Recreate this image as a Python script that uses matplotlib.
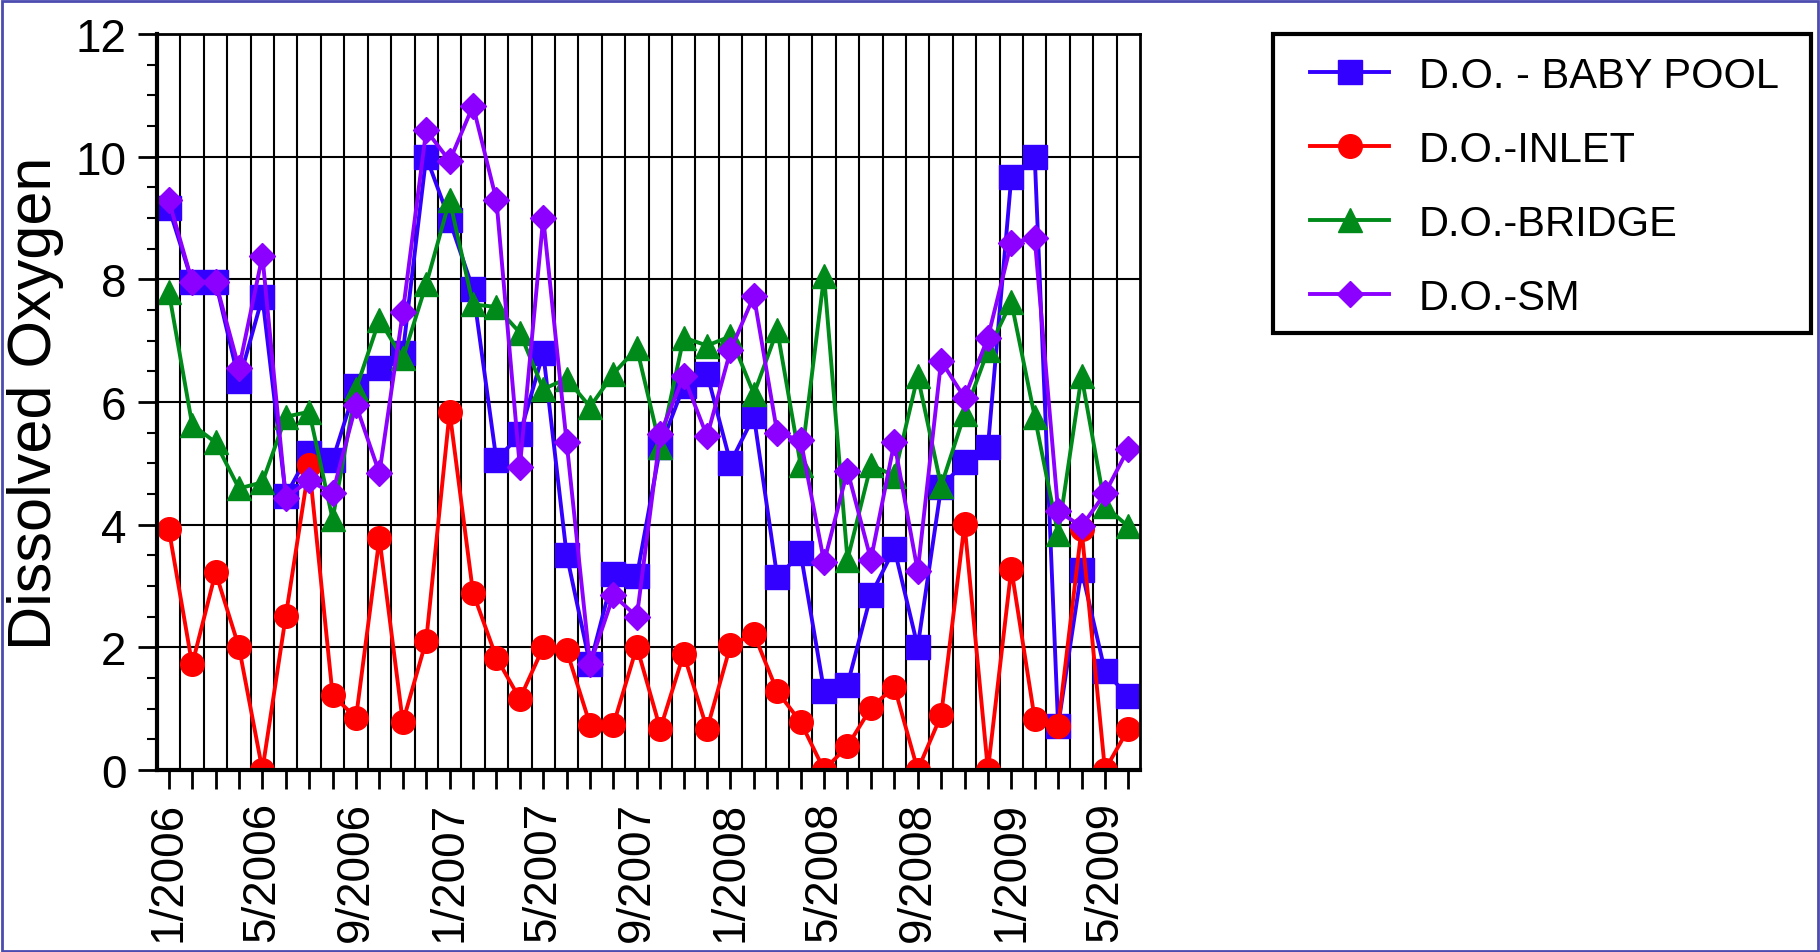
import matplotlib
matplotlib.use('Agg')
import matplotlib.pyplot as plt
from matplotlib.patches import Rectangle

plt.rcParams['font.family'] = ['Liberation Sans', 'DejaVu Sans']

# monthly samples, 1/2006 .. 6/2009
months = ['%d/%d' % (m, y) for y in range(2006, 2010) for m in range(1, 13)][:42]

baby_pool = [9.17, 7.96, 7.96, 6.34, 7.71, 4.47, 5.17, 5.05, 6.26, 6.55,
             6.80, 10.0, 8.96, 7.84, 5.05, 5.47, 6.80, 3.51, 1.72, 3.19,
             3.16, 5.26, 6.26, 6.46, 5.01, 5.77, 3.14, 3.53, 1.29, 1.39,
             2.85, 3.61, 2.01, 4.61, 5.02, 5.27, 9.67, 10.0, 0.72, 3.26,
             1.61, 1.20]
inlet = [3.93, 1.72, 3.22, 2.00, 0.00, 2.51, 4.97, 1.22, 0.85, 3.78,
         0.78, 2.11, 5.84, 2.89, 1.83, 1.16, 2.00, 1.95, 0.74, 0.74,
         2.01, 0.67, 1.89, 0.67, 2.03, 2.22, 1.28, 0.78, 0.00, 0.39,
         1.01, 1.36, 0.00, 0.89, 4.01, 0.00, 3.28, 0.83, 0.72, 3.93,
         0.00, 0.67]
bridge = [7.80, 5.63, 5.34, 4.59, 4.69, 5.76, 5.84, 4.09, 6.21, 7.34,
          6.71, 7.92, 9.29, 7.59, 7.55, 7.13, 6.21, 6.38, 5.92, 6.46,
          6.88, 5.26, 7.05, 6.92, 7.07, 6.13, 7.17, 4.97, 8.05, 3.43,
          4.97, 4.80, 6.42, 4.63, 5.80, 6.84, 7.63, 5.76, 3.84, 6.42,
          4.30, 3.97]
sm = [9.29, 7.96, 7.96, 6.55, 8.38, 4.44, 4.72, 4.51, 5.95, 4.84,
      7.46, 10.43, 9.93, 10.83, 9.29, 4.94, 9.00, 5.34, 1.72, 2.85,
      2.50, 5.48, 6.42, 5.44, 6.84, 7.73, 5.49, 5.38, 3.39, 4.88,
      3.43, 5.34, 3.24, 6.67, 6.07, 7.05, 8.60, 8.67, 4.22, 3.97,
      4.51, 5.24]

series = [
    ('D.O. - BABY POOL', baby_pool, '#3300ff', 's'),
    ('D.O.-INLET', inlet, '#ff0000', 'o'),
    ('D.O.-BRIDGE', bridge, '#008a1a', '^'),
    ('D.O.-SM', sm, '#8c00ff', 'D'),
]

fig = plt.figure(figsize=(18.2, 9.53), dpi=100)
ax = fig.add_axes([0.0863, 0.191, 0.5401, 0.7723])

x = list(range(len(months)))
for name, vals, color, mk in series:
    ms = 17 if mk != 'D' else 13
    ax.plot(x, vals, color=color, marker=mk, markersize=ms, linewidth=2.8,
            label=name)

ax.set_xlim(-0.5, len(months) - 0.5)
ax.set_ylim(0, 12)

# ticks: every month, labels every 4 months; grid lines between months
ax.set_xticks(x)
ax.set_xticklabels([m if i % 4 == 0 else '' for i, m in enumerate(months)],
                   rotation=90, fontsize=33)
ax.set_xticks([i + 0.5 for i in x[:-1]], minor=True)
ax.set_yticks(range(0, 13, 2))
ax.set_yticks([i * 0.5 for i in range(25)], minor=True)
ax.tick_params(axis='both', which='major', direction='out', length=14,
               width=2, pad=8, labelsize=33)
ax.tick_params(axis='x', which='minor', length=0)
ax.tick_params(axis='y', which='minor', direction='out', length=7, width=1.5)
ax.grid(which='minor', axis='x', color='black', linewidth=1.5)
ax.grid(which='major', axis='y', color='black', linewidth=1.5)
ax.set_axisbelow(True)
for sp in ['left', 'bottom']:
    ax.spines[sp].set_linewidth(3)
for sp in ['top', 'right']:
    ax.spines[sp].set_linewidth(2)

ax.set_ylabel('Dissolved Oxygen', fontsize=44, labelpad=8)

# legend without its own frame, box drawn separately to get the wider left margin
leg = ax.legend(loc='upper left', bbox_to_anchor=(0.7082, 0.963),
                bbox_transform=fig.transFigure, fontsize=30, frameon=False,
                handlelength=1.9, handletextpad=0.7,
                labelspacing=0.82, borderpad=0.51, borderaxespad=0)
fig.patches.append(Rectangle((0.6995, 0.6495), 0.2956, 0.3137,
                             transform=fig.transFigure, fill=False,
                             edgecolor='black', linewidth=3))

fig.patches.append(Rectangle((0.001, 0.001), 0.998, 0.997,
                             transform=fig.transFigure, fill=False,
                             edgecolor='#4b4bb0', linewidth=2))

fig.savefig('out.png', dpi=100)
